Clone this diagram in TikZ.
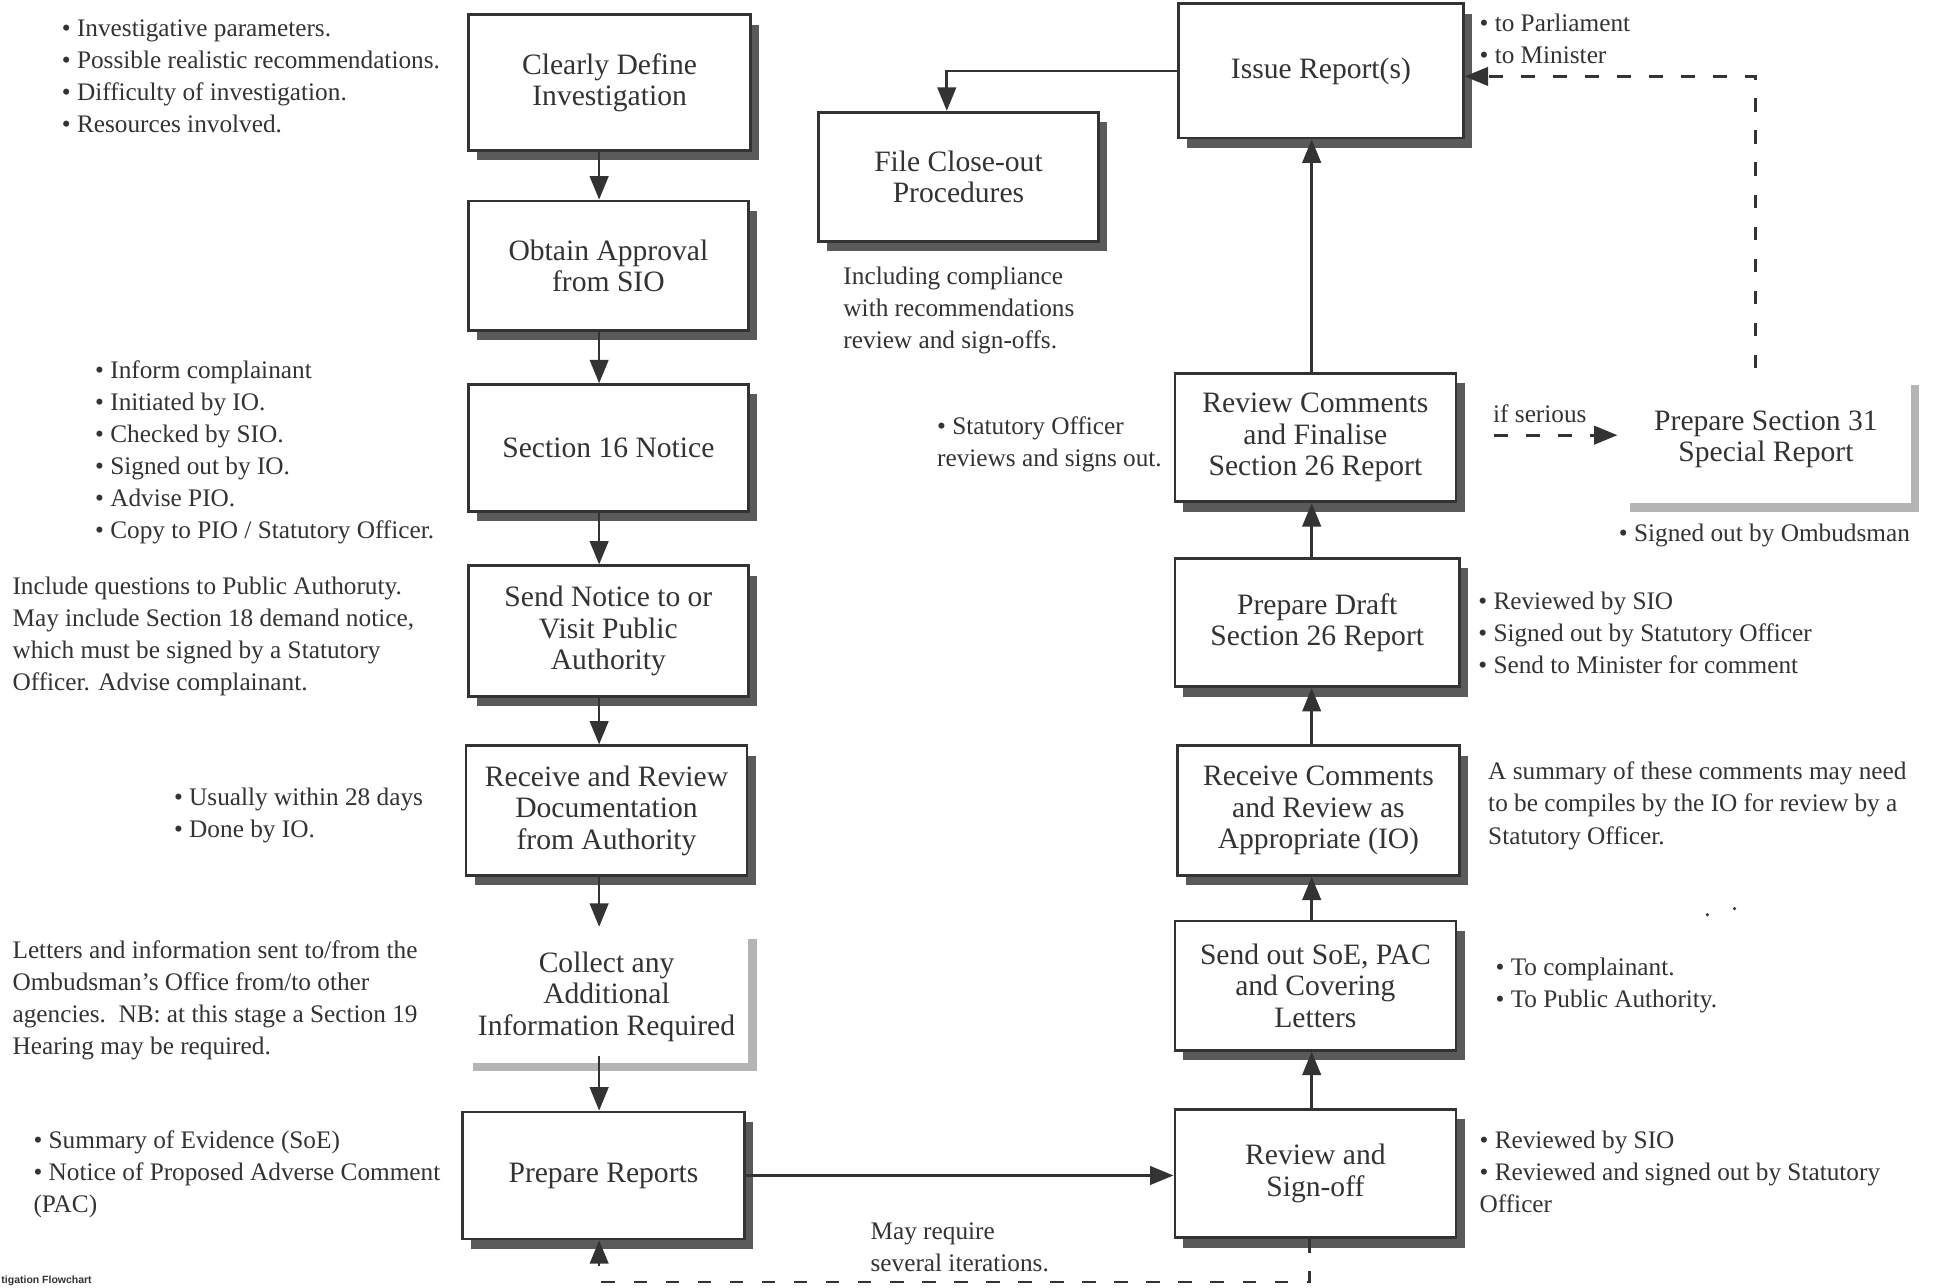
\documentclass[tikz,border=0pt]{standalone}
\usepackage{fontspec}
\setmainfont{Liberation Serif}
\newfontfamily\footfont{Liberation Sans}
\usetikzlibrary{arrows.meta,shadows}

\definecolor{ink}{HTML}{333333}
\definecolor{shadowgrey}{HTML}{5A5A5A}
\definecolor{lightshadow}{HTML}{B4B4B4}

\newcommand\boxfont{\fontsize{24}{25.5}\selectfont}
\newcommand\notefont{\fontsize{20.5}{26}\selectfont}

\tikzset{
  stepbox/.style={draw=ink, line width=2.2pt, fill=white, text=ink, font=\boxfont,
    align=center, inner sep=0pt,
    drop shadow={shadow xshift=7pt, shadow yshift=-8pt, fill=shadowgrey, opacity=1}},
  openbox/.style={fill=white, text=ink, font=\boxfont, align=center, inner sep=0pt,
    drop shadow={shadow xshift=7pt, shadow yshift=-7pt, fill=lightshadow, opacity=1}},
  sz/.style 2 args={minimum width=#1pt, minimum height=#2pt},
  note/.style={anchor=north west, align=left, inner sep=0pt, font=\notefont, text=ink},
  flow/.style={draw=ink, line width=2.2pt, -{Triangle[width=15pt,length=19pt]}},
  dashflow/.style={flow, dash pattern=on 11pt off 15pt},
}

\begin{document}
\begin{tikzpicture}[x=1pt,y=-1pt]
\useasboundingbox (0,0) rectangle (1568,1044);
\fill[white] (0,0) rectangle (1568,1044);

% ---------- left column ----------
\node[stepbox, sz={229}{110}] (B1) at (494.5,67) {Clearly Define\\Investigation};
\node[stepbox, sz={227}{105}] (B2) at (493.5,215.5) {Obtain Approval\\from SIO};
\node[stepbox, sz={227}{103}] (B3) at (493.5,363.5) {Section 16 Notice};
\node[stepbox, sz={227}{106}] (B4) at (493.5,512) {Send Notice to or\\Visit Public\\Authority};
\node[stepbox, sz={228}{105}] (B5) at (492,657.5) {Receive and Review\\Documentation\\from Authority};
\node[openbox, sz={230}{107}] (B6) at (492,808.5) {Collect any\\Additional\\Information Required};
\node[stepbox, sz={229}{103}] (B7) at (489.5,953.5) {Prepare Reports};

% ---------- right column ----------
\node[stepbox, sz={231}{109}] (R1) at (1071.5,57.5) {Issue Report(s)};
\node[stepbox, sz={227}{105}] (FC) at (777.5,143.5) {File Close-out\\Procedures};
\node[stepbox, sz={228}{104}] (R2) at (1067,355) {Review Comments\\and Finalise\\Section 26 Report};
\node[stepbox, sz={231}{104}] (R3) at (1068.5,505) {Prepare Draft\\Section 26 Report};
\node[stepbox, sz={229}{105}] (R4) at (1069.5,657.5) {Receive Comments\\and Review as\\Appropriate (IO)};
\node[stepbox, sz={228}{105}] (R5) at (1067,799.5) {Send out SoE, PAC\\and Covering\\Letters};
\node[stepbox, sz={228}{104}] (R6) at (1067,952) {Review and\\Sign-off};
\node[openbox, sz={235}{103}] (S31) at (1432.5,356.5) {Prepare Section 31\\Special Report};

% ---------- connector guides ----------
\coordinate (colL) at (486,0);
\coordinate (colR) at (1064,0);
\coordinate (fcx) at (768,0);
\coordinate (loopR) at (1062,1040);
\coordinate (topR) at (1424,62);
\coordinate (ifA) at (1212,353);
\coordinate (ifB) at (1312,353);

% ---------- connectors ----------
\draw[flow] (B1.south -| colL) -- (B2.north -| colL);
\draw[flow] (B2.south -| colL) -- (B3.north -| colL);
\draw[flow] (B3.south -| colL) -- (B4.north -| colL);
\draw[flow] (B4.south -| colL) -- (B5.north -| colL);
\draw[flow] (B5.south -| colL) -- ([yshift=3pt]B6.north -| colL);
\draw[flow] ([yshift=6pt]B6.south -| colL) -- (B7.north -| colL);
\draw[flow] (B7.east) -- (B7.east -| R6.west);

\draw[flow] (R6.north -| colR) -- (R5.south -| colR);
\draw[flow] (R5.north -| colR) -- (R4.south -| colR);
\draw[flow] (R4.north -| colR) -- (R3.south -| colR);
\draw[flow] (R3.north -| colR) -- (R2.south -| colR);
\draw[flow] (R2.north -| colR) -- (R1.south -| colR);
\draw[flow] (R1.west) -| (FC.north -| fcx);

\draw[dashflow] (R6.south -| loopR) -- (loopR) -| (B7.south -| colL);
\draw[dashflow] ([yshift=6pt]S31.north -| topR) -- (topR) -- (R1.east |- topR);
\draw[dashflow] (ifA) -- (ifB);

% ---------- notes ----------
\node[note] (n1) at (50,16) {• Investigative parameters.\\• Possible realistic recommendations.\\• Difficulty of investigation.\\• Resources involved.};
\node[note] (n2) at (77,292) {• Inform complainant\\• Initiated by IO.\\• Checked by SIO.\\• Signed out by IO.\\• Advise PIO.\\• Copy to PIO / Statutory Officer.};
\node[note] (n3) at (10,468) {Include questions to Public Authoruty.\\May include Section 18 demand notice,\\which must be signed by a Statutory\\Officer. Advise complainant.};
\node[note] (n4) at (141,639) {• Usually within 28 days\\• Done by IO.};
\node[note] (n5) at (10,763) {Letters and information sent to/from the\\Ombudsman's Office from/to other\\agencies.\ \ NB: at this stage a Section 19\\Hearing may be required.};
\node[note] (n6) at (27,917) {• Summary of Evidence (SoE)\\• Notice of Proposed Adverse Comment\\(PAC)};
\node[note] (n7) at (684,216) {Including compliance\\with recommendations\\review and sign-offs.};
\node[note] (n8) at (760,338) {• Statutory Officer\\reviews and signs out.};
\node[note] (n9) at (1200,11) {• to Parliament\\• to Minister};
\node[note] (n10) at (1313,425) {• Signed out by Ombudsman};
\node[note] (n11) at (1199,480) {• Reviewed by SIO\\• Signed out by Statutory Officer\\• Send to Minister for comment};
\node[note] (n12) at (1207,618) {A summary of these comments may need\\to be compiles by the IO for review by a\\Statutory Officer.};
\node[note] (n13) at (1213,777) {• To complainant.\\• To Public Authority.};
\node[note] (n14) at (1200,917) {• Reviewed by SIO\\• Reviewed and signed out by Statutory\\Officer};
\node[note] (lserious) at (1211,328) {if serious};
\node[note] (liter) at (706,992) {May require\\several iterations.};

% stray specks
\fill[ink] (1385,742) circle (1.4);
\fill[ink] (1407,737) circle (1.4);

% footer
\node[anchor=base west, inner sep=0pt, text=ink, font={\footfont\bfseries\fontsize{8.5}{10}\selectfont}] (foot) at (1,1041) {tigation Flowchart};
\end{tikzpicture}
\end{document}
